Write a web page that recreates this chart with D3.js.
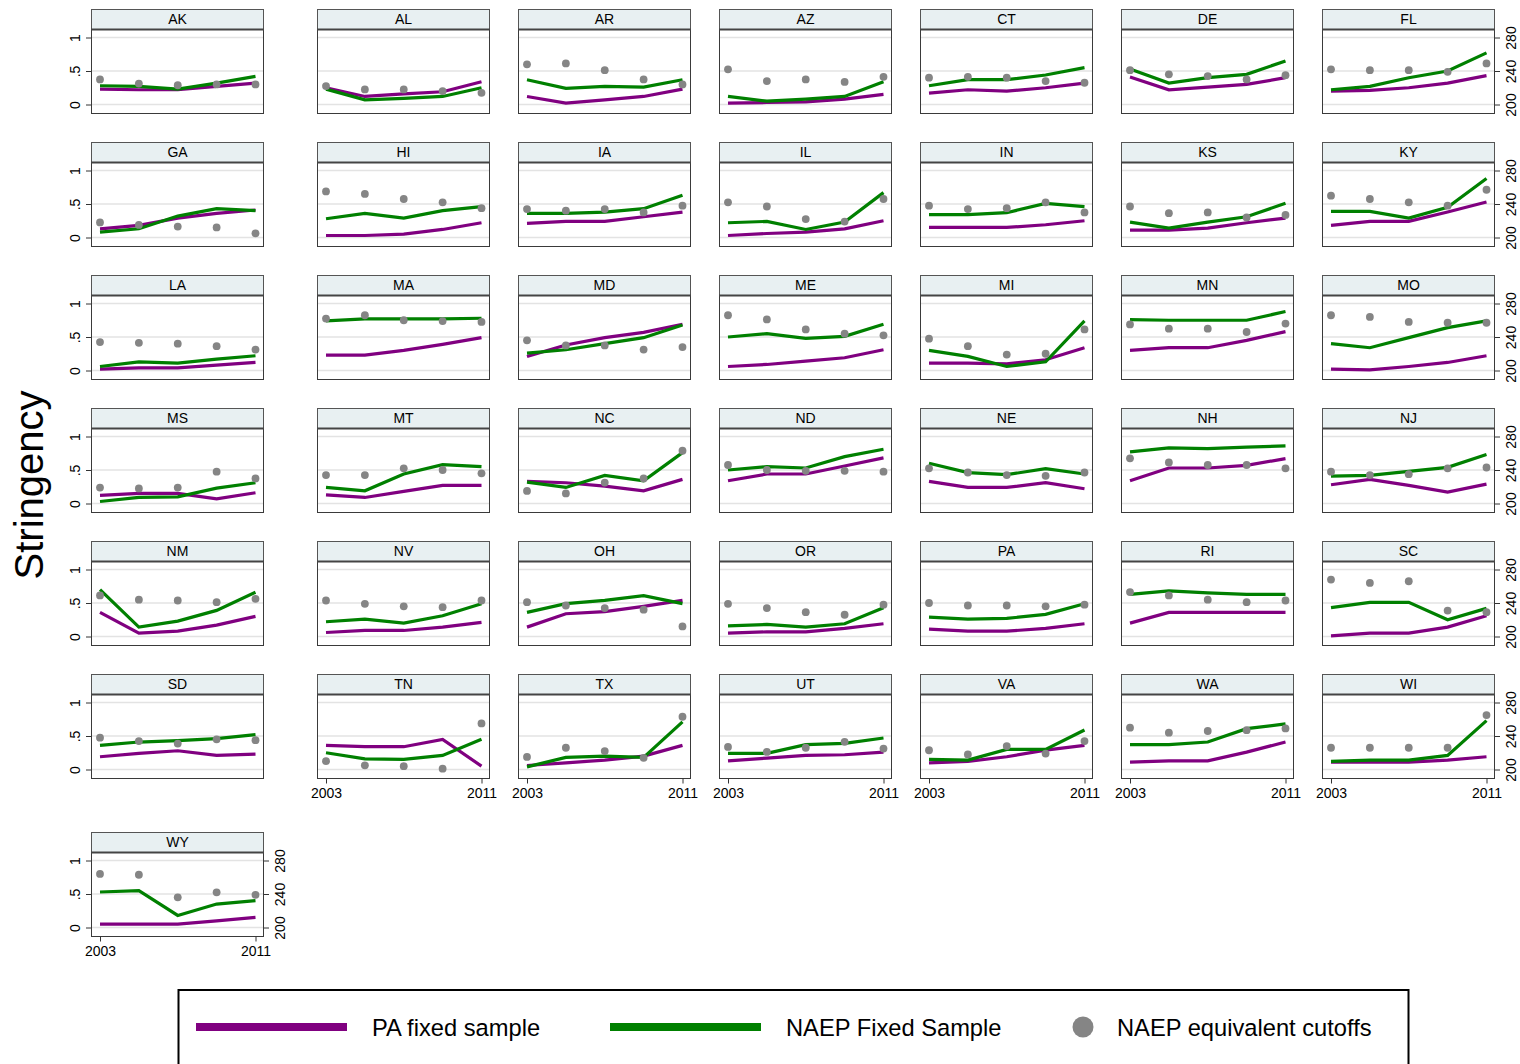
<!DOCTYPE html>
<html>
<head>
<meta charset="utf-8">
<script src="https://cdn.jsdelivr.net/npm/d3@7"></script>
<style>
  body { margin: 0; background: #fff; }
  text { font-family: "Liberation Sans", Arial, Helvetica, sans-serif; fill: #000; }
</style>
</head>
<body>
<script>
// data
const years = [2003, 2005, 2007, 2009, 2011];
const states = ['AK','AL','AR','AZ','CT','DE','FL','GA','HI','IA','IL','IN','KS','KY',
  'LA','MA','MD','ME','MI','MN','MO','MS','MT','NC','ND','NE','NH','NJ',
  'NM','NV','OH','OR','PA','RI','SC','SD','TN','TX','UT','VA','WA','WI','WY'];

// stringency, PA fixed sample (one row per state, same order as states)
const paFixed = [
  [0.23,0.22,0.22,0.27,0.32], [0.25,0.12,0.16,0.19,0.34], [0.12,0.02,0.07,0.12,0.23],
  [0.02,0.03,0.04,0.08,0.15], [0.17,0.22,0.20,0.25,0.32], [0.41,0.22,0.26,0.30,0.40],
  [0.20,0.21,0.25,0.32,0.43], [0.13,0.18,0.29,0.36,0.41], [0.03,0.03,0.05,0.12,0.22],
  [0.21,0.24,0.24,0.31,0.38], [0.03,0.06,0.08,0.13,0.25], [0.15,0.15,0.15,0.19,0.25],
  [0.11,0.11,0.14,0.22,0.29], [0.18,0.24,0.24,0.38,0.53], [0.02,0.04,0.04,0.08,0.12],
  [0.23,0.23,0.30,0.39,0.49], [0.21,0.38,0.49,0.57,0.69], [0.06,0.09,0.14,0.19,0.31],
  [0.11,0.11,0.10,0.16,0.34], [0.30,0.34,0.34,0.45,0.58], [0.02,0.01,0.06,0.12,0.22],
  [0.12,0.15,0.15,0.07,0.16], [0.13,0.09,0.18,0.27,0.27], [0.33,0.31,0.26,0.19,0.36],
  [0.34,0.44,0.44,0.56,0.68], [0.33,0.24,0.24,0.31,0.22], [0.34,0.53,0.53,0.57,0.67],
  [0.28,0.36,0.27,0.17,0.29], [0.36,0.05,0.08,0.17,0.30], [0.06,0.09,0.09,0.14,0.21],
  [0.14,0.34,0.37,0.45,0.54], [0.05,0.07,0.07,0.12,0.19], [0.11,0.08,0.08,0.12,0.19],
  [0.20,0.36,0.36,0.36,0.36], [0.01,0.05,0.05,0.14,0.31], [0.19,0.24,0.28,0.21,0.23],
  [0.36,0.34,0.34,0.45,0.05], [0.06,0.10,0.14,0.20,0.36], [0.13,0.17,0.21,0.22,0.26],
  [0.10,0.12,0.19,0.29,0.36], [0.11,0.13,0.13,0.26,0.41], [0.11,0.11,0.11,0.14,0.19],
  [0.05,0.05,0.05,0.10,0.15]
];

// stringency, NAEP fixed sample
const naepFixed = [
  [0.28,0.27,0.23,0.32,0.42], [0.23,0.07,0.09,0.12,0.25], [0.37,0.24,0.27,0.26,0.37],
  [0.12,0.05,0.08,0.12,0.34], [0.28,0.37,0.37,0.44,0.55], [0.53,0.32,0.40,0.45,0.65],
  [0.22,0.27,0.40,0.50,0.77], [0.08,0.13,0.32,0.43,0.40], [0.28,0.36,0.29,0.40,0.46],
  [0.36,0.36,0.38,0.43,0.63], [0.22,0.24,0.12,0.23,0.67], [0.34,0.34,0.37,0.51,0.46],
  [0.23,0.14,0.23,0.31,0.51], [0.39,0.39,0.29,0.45,0.88], [0.06,0.13,0.11,0.17,0.22],
  [0.74,0.77,0.77,0.77,0.78], [0.26,0.31,0.40,0.49,0.68], [0.50,0.55,0.48,0.51,0.69],
  [0.30,0.21,0.06,0.13,0.74], [0.76,0.75,0.75,0.75,0.88], [0.40,0.34,0.49,0.64,0.74],
  [0.03,0.09,0.10,0.23,0.31], [0.24,0.19,0.44,0.58,0.55], [0.32,0.24,0.42,0.34,0.76],
  [0.50,0.55,0.53,0.70,0.81], [0.60,0.46,0.43,0.52,0.44], [0.77,0.83,0.82,0.84,0.86],
  [0.41,0.42,0.48,0.54,0.73], [0.70,0.14,0.23,0.39,0.66], [0.22,0.26,0.20,0.31,0.49],
  [0.36,0.49,0.54,0.61,0.49], [0.16,0.18,0.14,0.19,0.43], [0.29,0.26,0.27,0.33,0.49],
  [0.63,0.68,0.65,0.63,0.63], [0.43,0.51,0.51,0.25,0.42], [0.36,0.41,0.43,0.46,0.52],
  [0.25,0.16,0.15,0.21,0.45], [0.04,0.18,0.20,0.18,0.71], [0.24,0.24,0.37,0.39,0.47],
  [0.15,0.14,0.30,0.30,0.59], [0.37,0.37,0.41,0.61,0.68], [0.12,0.14,0.14,0.21,0.73],
  [0.53,0.55,0.18,0.35,0.40]
];

// NAEP equivalent cutoffs (scale score, right axis)
const naepCutoffs = [
  [230,225,223,224,224], [222,218,218,216,214], [248,249,241,230,224],
  [242,228,230,227,233], [232,233,232,228,226], [241,236,234,230,235],
  [242,241,241,239,249], [218,215,213,212,205], [255,252,246,242,235],
  [234,232,234,230,238], [242,237,222,219,246], [238,234,235,242,230],
  [237,229,230,224,227], [250,246,242,238,257], [234,233,232,229,225],
  [262,266,260,259,258], [236,230,230,225,228], [266,261,249,244,242],
  [238,229,219,220,249], [255,250,250,246,256], [266,264,258,257,257],
  [219,218,219,238,230], [234,234,242,240,236], [215,212,225,230,263],
  [246,240,239,239,238], [242,237,234,233,237], [254,249,246,246,242],
  [238,234,235,242,243], [249,244,243,241,245], [243,239,236,235,243],
  [241,237,234,232,212], [239,234,229,226,238], [240,237,237,236,238],
  [253,249,244,241,243], [268,264,266,231,229], [238,234,231,236,235],
  [210,205,204,201,255], [215,226,222,214,263], [227,221,226,233,225],
  [223,218,228,219,234], [250,244,246,247,249], [226,226,226,226,265],
  [264,263,236,242,239]
];

const stringencyTicks = [0, 0.5, 1];
const stringencyLabels = ['0', '.5', '1'];
const scoreTicks = [200, 240, 280];
const yearTicks = [2003, 2011];
const legendLabels = ['PA fixed sample', 'NAEP Fixed Sample', 'NAEP equivalent cutoffs'];

const purple = '#800080', green = '#008000', grey = '#858585';

// layout
const svg = d3.select('body').append('svg')
  .attr('width', 1520)
  .attr('height', 1064);

const nCols = 7;
const panelW = 173, stripH = 20.5, plotBottom = 104.5;
const colLeft = c => c === 0 ? 91 : 317 + 201 * (c - 1);
const rowTop = r => r < 6 ? 9 + 133 * r : 832;

const x = d3.scaleLinear().domain([2003, 2011]).range([9, 164.5]);
const y = d3.scaleLinear().domain([0, 1]).range([95.5, 28.5]);
const yScore = d3.scaleLinear().domain([200, 280]).range([95.5, 28.5]);

const line = d3.line().x((d, i) => x(years[i])).y(d => y(d));

states.forEach((st, i) => {
  const c = i % nCols, r = Math.floor(i / nCols);
  const g = svg.append('g').attr('transform', `translate(${colLeft(c)},${rowTop(r)})`);

  // plot region + gridlines
  g.append('rect')
    .attr('x', 0).attr('y', stripH)
    .attr('width', panelW).attr('height', plotBottom - stripH)
    .attr('fill', '#fff');

  g.selectAll('line.grid')
    .data(stringencyTicks)
    .enter().append('line')
    .attr('class', 'grid')
    .attr('x1', 0.5).attr('x2', panelW - 0.5)
    .attr('y1', d => y(d)).attr('y2', d => y(d))
    .attr('stroke', '#e3e3e3')
    .attr('stroke-width', 1.6);

  // series
  g.append('path')
    .datum(paFixed[i])
    .attr('d', line)
    .attr('fill', 'none')
    .attr('stroke', purple)
    .attr('stroke-width', 3.2);

  g.append('path')
    .datum(naepFixed[i])
    .attr('d', line)
    .attr('fill', 'none')
    .attr('stroke', green)
    .attr('stroke-width', 3.2);

  g.selectAll('circle')
    .data(naepCutoffs[i])
    .enter().append('circle')
    .attr('cx', (d, k) => x(years[k]))
    .attr('cy', d => yScore(d))
    .attr('r', 3.9)
    .attr('fill', grey);

  // frame
  g.append('rect')
    .attr('x', 0.5).attr('y', stripH)
    .attr('width', panelW - 1).attr('height', plotBottom - stripH)
    .attr('fill', 'none')
    .attr('stroke', '#3a3a3a')
    .attr('stroke-width', 1);

  // title strip
  g.append('rect')
    .attr('x', 0.5).attr('y', 0.5)
    .attr('width', panelW - 1).attr('height', stripH - 0.5)
    .attr('fill', '#e8f0f2')
    .attr('stroke', '#555')
    .attr('stroke-width', 1);

  g.append('line')
    .attr('x1', 0).attr('x2', panelW)
    .attr('y1', stripH).attr('y2', stripH)
    .attr('stroke', '#444')
    .attr('stroke-width', 2);

  g.append('text')
    .attr('x', panelW / 2).attr('y', 14.5)
    .attr('text-anchor', 'middle')
    .style('font-size', '14px')
    .text(st);

  // axes
  const last = i === states.length - 1;
  if (c === 0) {
    const ax = g.append('g')
      .call(d3.axisLeft(y).tickValues(stringencyTicks)
        .tickFormat((d, k) => stringencyLabels[k]).tickSize(5).tickSizeOuter(0));
    styleVerticalAxis(ax, -16);
  }
  if (c === nCols - 1 || last) {
    const ax = g.append('g')
      .attr('transform', `translate(${panelW},0)`)
      .call(d3.axisRight(yScore).tickValues(scoreTicks).tickSize(5).tickSizeOuter(0));
    styleVerticalAxis(ax, 16);
  }
  if ((r === 5 && c > 0) || r === 6) {
    const ax = g.append('g')
      .attr('transform', `translate(0,${plotBottom})`)
      .call(d3.axisBottom(x).tickValues(yearTicks).tickFormat(d3.format('d'))
        .tickSize(5).tickSizeOuter(0));
    ax.select('.domain').remove();
    ax.selectAll('line').attr('stroke', '#333');
    ax.selectAll('text')
      .attr('y', 10)
      .style('font-size', '14px')
      .style('font-family', '"Liberation Sans", Arial, sans-serif');
  }
});

function styleVerticalAxis(ax, off) {
  ax.select('.domain').remove();
  ax.selectAll('line').attr('stroke', '#333');
  ax.selectAll('text')
    .attr('x', 0).attr('y', 0).attr('dy', '0.35em')
    .attr('text-anchor', 'middle')
    .attr('transform', `translate(${off},0) rotate(-90)`)
    .style('font-size', '14px')
    .style('font-family', '"Liberation Sans", Arial, sans-serif');
}

// y axis title
svg.append('text')
  .attr('transform', 'translate(43,485) rotate(-90)')
  .attr('text-anchor', 'middle')
  .style('font-size', '40px')
  .text('Stringency');

// legend
const legend = svg.append('g');
legend.append('rect')
  .attr('x', 178.5).attr('y', 990)
  .attr('width', 1230).attr('height', 110)
  .attr('fill', '#fff')
  .attr('stroke', '#000')
  .attr('stroke-width', 2);

const legendX = [196, 610, 1072];
[purple, green].forEach((col, k) => {
  legend.append('line')
    .attr('x1', legendX[k]).attr('x2', legendX[k] + 151)
    .attr('y1', 1027).attr('y2', 1027)
    .attr('stroke', col)
    .attr('stroke-width', 8);
});
legend.append('circle')
  .attr('cx', 1083).attr('cy', 1027).attr('r', 10.5)
  .attr('fill', grey);

const legendTextX = [372, 786, 1117];
legend.selectAll('text.lab')
  .data(legendLabels)
  .enter().append('text')
  .attr('class', 'lab')
  .attr('x', (d, k) => legendTextX[k])
  .attr('y', 1036)
  .style('font-size', '23.7px')
  .text(d => d);
</script>
</body>
</html>
